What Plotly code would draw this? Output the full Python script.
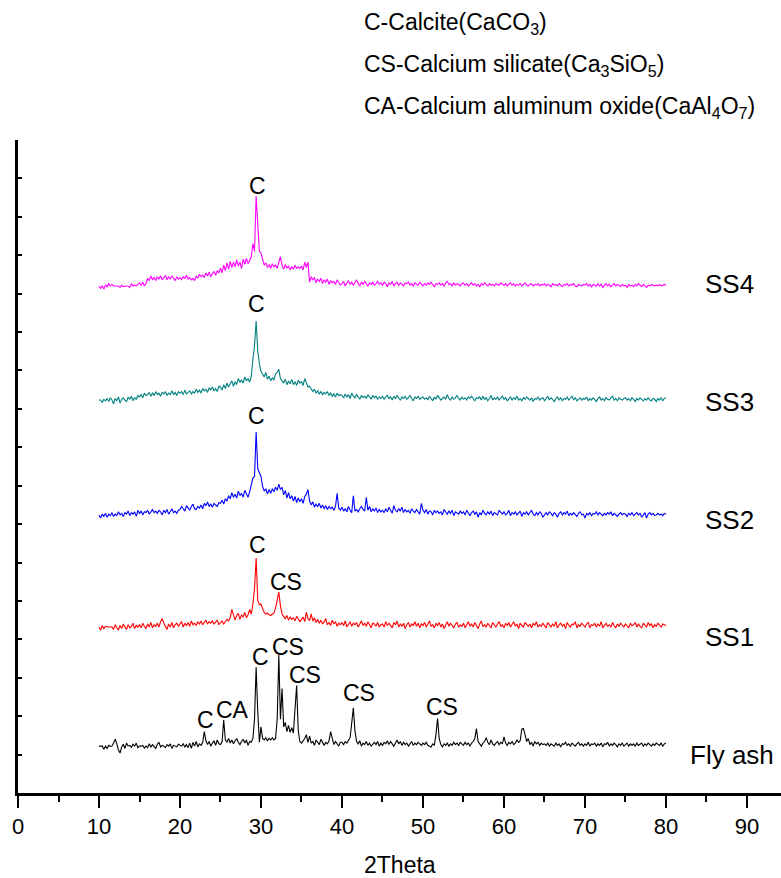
import plotly.graph_objects as go

# XRD scan: 10-80 deg 2theta, 0.2 deg step
two_theta_start = 10.0
two_theta_step = 0.2

# Intensities (a.u.), one row per 5 deg
fly_ash = [
    50, 50, 50, 42, 50, 44, 52, 49, 50, 58, 68, 56, 40, 32, 48, 55, 44, 58, 50, 52, 47, 55, 50, 58, 46,
    50, 50, 52, 45, 50, 46, 56, 48, 54, 50, 44, 55, 60, 48, 52, 50, 46, 54, 50, 56, 44, 52, 50, 48, 55,
    52, 50, 56, 48, 54, 46, 58, 44, 60, 50, 62, 48, 56, 52, 60, 88, 64, 54, 62, 50, 58, 64, 52, 66, 56,
    54, 62, 118, 66, 60, 70, 58, 66, 56, 64, 70, 60, 54, 62, 68, 58, 66, 52, 62, 60, 70, 120, 255, 140, 60,
    100, 70, 66, 72, 64, 70, 66, 72, 66, 70, 120, 287, 120, 200, 100, 112, 88, 104, 86, 98, 84, 150, 208, 90, 62,
    58, 64, 70, 80, 60, 76, 58, 62, 52, 66, 60, 54, 68, 58, 52, 60, 56, 64, 88, 70, 54, 62, 56, 50, 60,
    60, 54, 62, 58, 64, 72, 110, 150, 90, 62, 56, 64, 50, 58, 54, 62, 52, 58, 50, 56, 60, 54, 62, 50, 58,
    52, 60, 56, 64, 54, 62, 56, 50, 58, 66, 56, 62, 52, 60, 54, 58, 50, 56, 62, 52, 58, 54, 60, 56, 52,
    58, 54, 60, 52, 50, 48, 56, 52, 80, 122, 70, 54, 48, 56, 52, 58, 50, 56, 52, 60, 54, 58, 52, 60, 56,
    52, 60, 54, 58, 50, 58, 62, 70, 96, 62, 56, 50, 58, 62, 72, 60, 54, 66, 56, 52, 58, 62, 54, 60, 56,
    74, 58, 52, 60, 56, 62, 54, 58, 66, 60, 64, 94, 96, 80, 62, 70, 54, 60, 50, 62, 56, 60, 52, 58, 54,
    56, 52, 58, 50, 56, 54, 50, 58, 52, 56, 48, 56, 54, 60, 52, 56, 50, 58, 54, 50, 56, 60, 52, 56, 50,
    56, 52, 60, 50, 56, 54, 58, 50, 56, 52, 58, 48, 56, 54, 60, 50, 56, 52, 58, 54, 48, 56, 52, 58, 50,
    54, 58, 50, 56, 52, 56, 50, 58, 52, 54, 58, 50, 56, 52, 58, 54, 50, 56, 52, 58, 54, 52, 58, 50, 56,
    58,
]

ss1 = [
    50, 42, 54, 46, 52, 50, 50, 50, 50, 44, 56, 48, 42, 54, 46, 58, 50, 44, 56, 48, 52, 60, 46, 54, 50,
    56, 48, 60, 52, 46, 58, 50, 62, 48, 56, 52, 60, 50, 64, 72, 60, 52, 44, 58, 50, 62, 48, 56, 60, 52,
    58, 64, 50, 60, 54, 62, 52, 66, 56, 60, 54, 64, 58, 66, 56, 62, 68, 58, 64, 60, 66, 58, 62, 68, 56,
    62, 66, 58, 64, 70, 66, 74, 96, 78, 68, 80, 86, 70, 82, 76, 88, 74, 82, 96, 84, 110, 150, 230, 120, 108,
    110, 98, 88, 84, 86, 82, 80, 84, 86, 100, 118, 141, 106, 84, 78, 72, 80, 68, 76, 70, 74, 66, 78, 70, 64,
    70, 76, 64, 88, 72, 68, 84, 66, 74, 62, 70, 60, 68, 58, 64, 72, 56, 62, 54, 68, 58, 64, 52, 60, 56,
    62, 54, 66, 50, 58, 64, 52, 60, 56, 62, 50, 58, 66, 54, 60, 52, 64, 56, 48, 60, 58, 52, 62, 50, 56,
    58, 50, 64, 54, 60, 52, 48, 62, 56, 66, 50, 58, 52, 60, 46, 56, 62, 50, 58, 54, 64, 52, 60, 48, 58,
    54, 62, 50, 58, 66, 52, 56, 48, 60, 54, 62, 50, 58, 46, 56, 64, 52, 60, 54, 48, 58, 62, 50, 56, 52,
    60, 48, 56, 64, 52, 58, 50, 62, 54, 46, 58, 66, 52, 56, 50, 60, 54, 48, 62, 56, 50, 58, 64, 52, 56,
    48, 60, 54, 62, 50, 56, 64, 52, 58, 46, 60, 54, 50, 62, 56, 52, 58, 48, 60, 54, 64, 50, 56, 52, 60,
    54, 48, 62, 56, 50, 58, 52, 64, 48, 56, 60, 52, 58, 46, 62, 54, 50, 58, 56, 64, 48, 56, 52, 60, 54,
    50, 58, 62, 48, 56, 54, 60, 50, 58, 52, 64, 48, 56, 60, 52, 56, 50, 62, 54, 48, 58, 52, 60, 56, 50,
    58, 52, 48, 60, 54, 56, 62, 50, 58, 52, 48, 60, 56, 50, 62, 54, 58, 48, 56, 52, 60, 54, 50, 58, 56,
    54,
]

ss2 = [
    50, 42, 52, 46, 54, 44, 52, 48, 56, 46, 52, 48, 58, 50, 54, 46, 56, 52, 60, 48, 56, 52, 58, 46, 62,
    54, 60, 50, 58, 56, 62, 52, 58, 64, 56, 60, 54, 62, 58, 50, 62, 56, 64, 52, 58, 66, 56, 60, 54, 62,
    64, 72, 66, 60, 74, 68, 62, 72, 78, 66, 64, 72, 68, 76, 66, 80, 74, 84, 72, 78, 70, 80, 76, 72, 82,
    80, 88, 78, 92, 86, 100, 92, 108, 96, 104, 94, 112, 100, 106, 96, 114, 104, 96, 110, 128, 146, 150, 266, 170, 160,
    150, 124, 112, 118, 104, 116, 106, 118, 110, 122, 114, 130, 116, 122, 102, 114, 94, 108, 92, 100, 86, 98, 82, 94, 84,
    92, 80, 98, 104, 116, 86, 76, 84, 70, 78, 72, 80, 68, 76, 66, 74, 64, 72, 66, 70, 62, 72, 106, 68, 62,
    70, 60, 66, 58, 72, 62, 56, 100, 60, 64, 58, 66, 72, 64, 60, 96, 62, 72, 58, 66, 60, 68, 56, 64, 58,
    62, 56, 66, 58, 70, 60, 54, 74, 62, 58, 66, 60, 70, 56, 64, 58, 62, 54, 66, 60, 56, 64, 58, 52, 80,
    62, 56, 64, 52, 60, 58, 50, 62, 56, 60, 54, 58, 50, 64, 56, 52, 60, 54, 62, 48, 58, 56, 52, 60, 54,
    58, 50, 62, 54, 48, 56, 60, 52, 58, 44, 56, 50, 62, 54, 50, 58, 52, 60, 48, 56, 54, 50, 62, 56, 52,
    58, 50, 54, 62, 48, 56, 52, 58, 50, 54, 60, 46, 56, 52, 58, 50, 56, 62, 52, 48, 56, 50, 58, 54, 44,
    52, 56, 50, 58, 54, 48, 56, 52, 44, 54, 58, 50, 56, 52, 60, 48, 54, 50, 56, 52, 46, 54, 58, 50, 52,
    42, 54, 50, 56, 48, 54, 52, 58, 50, 56, 52, 48, 54, 50, 56, 52, 58, 48, 54, 50, 46, 52, 56, 50, 54,
    52, 46, 54, 50, 56, 48, 52, 56, 50, 54, 44, 52, 56, 42, 52, 56, 50, 54, 48, 50, 54, 50, 52, 48, 54,
    52,
]

ss3 = [
    50, 50, 44, 52, 48, 54, 46, 56, 50, 40, 54, 48, 58, 42, 52, 56, 50, 46, 58, 52, 60, 48, 56, 52, 62,
    58, 64, 56, 68, 62, 64, 70, 60, 68, 62, 72, 64, 68, 60, 70, 66, 72, 62, 68, 64, 74, 64, 70, 62, 72,
    68, 72, 64, 76, 66, 70, 74, 66, 72, 68, 78, 70, 76, 68, 80, 74, 78, 70, 82, 76, 84, 74, 80, 72, 86,
    84, 76, 90, 80, 94, 84, 92, 100, 86, 98, 90, 106, 96, 102, 94, 110, 100, 106, 96, 112, 156, 190, 256, 178, 144,
    124, 118, 110, 122, 104, 112, 100, 108, 102, 118, 122, 130, 106, 100, 94, 104, 90, 100, 92, 104, 90, 98, 88, 102, 94,
    98, 88, 106, 94, 84, 86, 80, 72, 78, 68, 74, 66, 72, 64, 70, 66, 72, 62, 68, 60, 66, 58, 68, 62, 64,
    62, 56, 66, 58, 64, 54, 68, 60, 56, 64, 58, 52, 62, 56, 60, 54, 64, 58, 52, 62, 56, 60, 52, 58, 54,
    60, 52, 58, 62, 54, 58, 50, 60, 54, 62, 56, 50, 58, 54, 60, 52, 56, 62, 54, 48, 58, 54, 60, 52, 56,
    58, 52, 56, 50, 60, 54, 48, 58, 52, 62, 56, 50, 54, 58, 52, 64, 54, 50, 58, 52, 56, 62, 54, 50, 58,
    52, 56, 50, 58, 54, 60, 52, 48, 56, 54, 58, 50, 60, 52, 56, 48, 54, 62, 50, 56, 52, 58, 50, 54, 60,
    52, 56, 48, 54, 58, 50, 56, 52, 60, 50, 54, 48, 56, 52, 58, 54, 50, 56, 46, 54, 52, 58, 50, 54, 56,
    48, 54, 60, 50, 56, 52, 46, 54, 58, 50, 56, 48, 54, 52, 58, 50, 54, 60, 50, 56, 48, 52, 56, 50, 54,
    52, 58, 48, 54, 50, 56, 52, 46, 54, 58, 50, 54, 48, 56, 52, 50, 56, 60, 50, 54, 48, 56, 52, 50, 54,
    56, 50, 54, 48, 56, 52, 46, 54, 50, 56, 52, 48, 54, 50, 56, 50, 48, 54, 52, 46, 54, 50, 56, 48, 54,
    56,
]

ss4 = [
    50, 44, 50, 42, 52, 48, 56, 50, 54, 50, 50, 50, 50, 46, 52, 48, 50, 50, 50, 46, 56, 50, 52, 50, 54,
    58, 52, 60, 50, 56, 70, 64, 76, 66, 72, 64, 74, 68, 76, 66, 72, 78, 66, 74, 68, 76, 70, 64, 74, 68,
    72, 66, 74, 70, 78, 68, 72, 66, 70, 64, 76, 70, 80, 74, 78, 72, 84, 76, 86, 74, 82, 88, 78, 90, 84,
    96, 84, 104, 90, 110, 94, 114, 98, 112, 100, 118, 102, 112, 96, 120, 106, 122, 108, 116, 126, 160, 140, 284, 200, 140,
    136, 118, 104, 110, 98, 106, 96, 108, 100, 104, 96, 112, 126, 104, 94, 106, 96, 102, 92, 100, 94, 104, 96, 100, 96,
    102, 92, 112, 98, 112, 60, 74, 66, 72, 58, 68, 62, 70, 56, 66, 60, 68, 54, 64, 58, 62, 54, 66, 58, 52,
    56, 62, 50, 58, 64, 54, 60, 52, 58, 66, 56, 50, 60, 54, 62, 56, 50, 58, 54, 60, 52, 56, 62, 54, 58,
    52, 60, 56, 48, 58, 54, 62, 50, 56, 60, 52, 58, 54, 50, 58, 56, 60, 52, 56, 50, 58, 54, 52, 60, 56,
    50, 56, 52, 58, 54, 60, 52, 48, 56, 54, 58, 52, 56, 50, 58, 62, 54, 56, 50, 58, 52, 56, 54, 50, 56,
    58, 52, 56, 50, 54, 58, 52, 56, 50, 54, 48, 56, 52, 58, 54, 50, 56, 52, 54, 50, 56, 54, 52, 58, 54,
    52, 56, 50, 54, 58, 52, 56, 50, 54, 52, 56, 50, 54, 58, 52, 50, 54, 56, 50, 54, 52, 56, 50, 54, 52,
    56, 50, 54, 52, 48, 56, 52, 54, 50, 56, 52, 48, 54, 52, 56, 50, 54, 52, 56, 50, 48, 54, 52, 50, 54,
    52, 56, 50, 54, 48, 54, 52, 50, 56, 50, 54, 46, 52, 56, 50, 54, 48, 52, 56, 50, 54, 52, 48, 54, 50,
    52, 46, 54, 50, 52, 48, 54, 50, 56, 52, 48, 54, 50, 46, 52, 50, 54, 52, 50, 52, 50, 54, 50, 52, 54,
    52,
]

sample_names = ["Fly ash", "SS1", "SS2", "SS3", "SS4"]
sample_data = [fly_ash, ss1, ss2, ss3, ss4]
stack_offsets = [72, 382, 674, 973, 1270]
line_colors = ["#000000", "#FF0000", "#0000FF", "#008080", "#FF00FF"]

# Sample-name labels at the right end of each pattern (x, y)
name_label_x = [88.2, 87.9, 87.9, 87.9, 87.9]
name_label_y = [99, 406, 711, 1018, 1325]

# Phase labels above the peaks: (text, 2theta, y)
phase_labels = [
    ("C", 23.1, 191), ("CA", 26.5, 216), ("C", 29.9, 354), ("CS", 33.3, 380),
    ("CS", 35.4, 307), ("CS", 42.1, 260), ("CS", 52.3, 224),
    ("C", 29.6, 645), ("CS", 33.1, 549),
    ("C", 29.5, 981),
    ("C", 29.5, 1273),
    ("C", 29.6, 1580),
]

phase_key = [
    "C-Calcite(CaCO<sub>3</sub>)",
    "CS-Calcium silicate(Ca<sub>3</sub>SiO<sub>5</sub>)",
    "CA-Calcium aluminum oxide(CaAl<sub>4</sub>O<sub>7</sub>)",
]
phase_key_y = [1.178, 1.114, 1.050]

FONT = "Liberation Sans, Arial, sans-serif"

for v in sample_data:
    assert len(v) == 351, len(v)

fig = go.Figure()
for name, vals, off, col in zip(sample_names, sample_data, stack_offsets, line_colors):
    xs = [two_theta_start + two_theta_step * i for i in range(len(vals))]
    fig.add_trace(go.Scatter(
        x=xs, y=[v + off for v in vals], mode="lines", name=name,
        line=dict(color=col, width=1.1), showlegend=False, hoverinfo="skip",
    ))

annotations = []
for name, lx, ly in zip(sample_names, name_label_x, name_label_y):
    annotations.append(dict(x=lx, y=ly, xref="x", yref="y", text=name, showarrow=False,
                            xanchor="center", yanchor="middle",
                            font=dict(family=FONT, size=26, color="#000")))
for txt, px_, py_ in phase_labels:
    annotations.append(dict(x=px_, y=py_, xref="x", yref="y", text=txt, showarrow=False,
                            xanchor="center", yanchor="middle",
                            font=dict(family=FONT, size=23, color="#000")))
for txt, ky in zip(phase_key, phase_key_y):
    annotations.append(dict(x=0.451, y=ky, xref="paper", yref="paper", text=txt, showarrow=False,
                            xanchor="left", yanchor="middle",
                            font=dict(family=FONT, size=23, color="#000")))
annotations.append(dict(x=0.5, y=-0.111, xref="paper", yref="paper", text="2Theta", showarrow=False,
                        xanchor="center", yanchor="middle",
                        font=dict(family=FONT, size=23, color="#000")))

fig.update_layout(
    width=781, height=878,
    margin=dict(l=18, r=0, t=139.5, b=85.3, autoexpand=False),
    paper_bgcolor="white", plot_bgcolor="white",
    annotations=annotations,
    xaxis=dict(
        range=[0, 94.2], tick0=0, dtick=10, showgrid=False, zeroline=False,
        showline=True, linecolor="#000", linewidth=2.5,
        ticks="outside", ticklen=12, tickwidth=2, tickcolor="#000",
        minor=dict(ticks="outside", ticklen=6, tickwidth=2, tickcolor="#000", dtick=5, tick0=0, showgrid=False),
        tickfont=dict(family=FONT, size=22, color="#000"),
    ),
    xaxis2=dict(
        overlaying="x", matches="x", side="top", range=[0, 94.2], tick0=0, dtick=10,
        showgrid=False, zeroline=False, showticklabels=False,
        showline=True, linecolor="#000", linewidth=2.5,
        ticks="inside", ticklen=11, tickwidth=2, tickcolor="#000",
        minor=dict(ticks="inside", ticklen=6, tickwidth=2, tickcolor="#000", dtick=5, tick0=0, showgrid=False),
    ),
    yaxis=dict(
        range=[0, 1700], tick0=0, dtick=100, showgrid=False, zeroline=False,
        showticklabels=False, showline=True, linecolor="#000", linewidth=2.5,
        ticks="inside", ticklen=4, tickwidth=2, tickcolor="#000",
    ),
)

fig.write_html("out.html")
